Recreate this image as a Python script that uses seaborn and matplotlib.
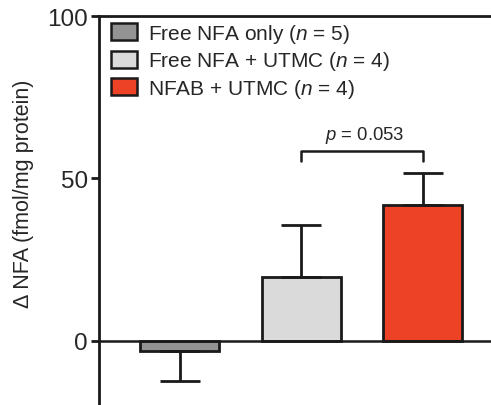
import matplotlib
matplotlib.use("Agg")
import matplotlib.pyplot as plt
import seaborn as sns
import pandas as pd
from matplotlib.patches import Patch

groups = ["Free NFA only", "Free NFA + UTMC", "NFAB + UTMC"]
n_values = [5, 4, 4]
means = [-3.0, 19.7, 41.8]
errors = [9.4, 16.0, 10.0]
colors = ["#939393", "#dadada", "#ee4227"]
p_label = "p = 0.053"

sns.set_theme(style="white")
plt.rcParams["font.family"] = ["Liberation Sans", "DejaVu Sans"]
plt.rcParams["mathtext.fontset"] = "custom"
plt.rcParams["mathtext.rm"] = "Liberation Sans"
plt.rcParams["mathtext.it"] = "Liberation Sans:italic"

df = pd.DataFrame({"group": groups, "mean": means, "err": errors})

fig = plt.figure(figsize=(4.91, 4.06), dpi=100)
ax = fig.add_axes([99 / 491, 0.0, 1 - 99 / 491 + 0.01, 389 / 406])

sns.barplot(data=df, x="group", y="mean", hue="group", palette=colors,
            saturation=1, width=0.65, edgecolor="#1a1a1a", linewidth=2, ax=ax,
            legend=False, errorbar=None)

for i, (m, e) in enumerate(zip(means, errors)):
    lower = [e] if m < 0 else [0]
    upper = [0] if m < 0 else [e]
    ax.errorbar(i, m, yerr=[lower, upper], fmt="none", ecolor="#1a1a1a",
                elinewidth=2, capsize=14.5, capthick=2, zorder=1)

ax.axhline(0, color="#1a1a1a", lw=1.8, zorder=3)

ax.set_xlim(-0.664, 2.60)
ax.set_ylim(-19.7, 100)
ax.set_yticks([0, 50, 100])
ax.set_xticks([])
ax.set_xlabel("")
ax.tick_params(axis="y", which="both", left=True, length=6, width=2,
               labelsize=17.5, pad=2, color="#1a1a1a")
ax.set_ylabel("Δ NFA (fmol/mg protein)", fontsize=15.5)
ax.yaxis.set_label_coords(-0.165, 0.545)

for side in ["left", "top"]:
    ax.spines[side].set_visible(True)
    ax.spines[side].set_linewidth(2)
    ax.spines[side].set_color("#1a1a1a")
ax.spines["right"].set_visible(False)
ax.spines["bottom"].set_visible(False)

# significance bracket
yb_top = 58.5
yb_bot = 55.4
ax.plot([1, 1, 2, 2], [yb_bot, yb_top, yb_top, yb_bot], color="#1a1a1a", lw=1.8,
        clip_on=False)
ax.text(1.52, yb_top + 1.9, "$p$ = 0.053", ha="center", va="bottom", fontsize=13.3)

handles = [Patch(facecolor=c, edgecolor="#1a1a1a", linewidth=1.8) for c in colors]
labels = [f"{g} ($n$ = {n})" for g, n in zip(groups, n_values)]
ax.legend(handles, labels, loc="upper left", bbox_to_anchor=(-0.012, 1.028),
          frameon=False, fontsize=15, handlelength=1.25, handleheight=0.9,
          handletextpad=0.55, labelspacing=0.22, borderaxespad=0.5,
          borderpad=0.3)

fig.savefig("out.png", dpi=100)
